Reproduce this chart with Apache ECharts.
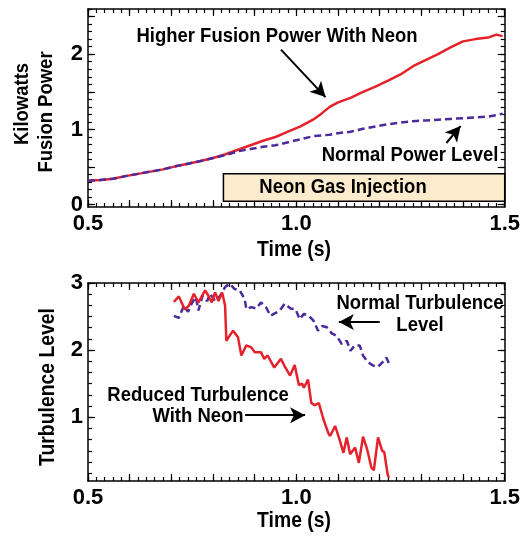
<!DOCTYPE html>
<html>
<head>
<meta charset="utf-8">
<script src="https://cdn.jsdelivr.net/npm/echarts@6/dist/echarts.min.js"></script>
<style>
  html, body { margin: 0; padding: 0; background: #fff; }
  #chart { width: 523px; height: 538px; }
</style>
</head>
<body>
<div id="chart"></div>
<script>
// Fusion power (kW) versus time (s)
const powerTime     = [0.50, 0.53, 0.56, 0.59, 0.62, 0.65, 0.68, 0.71, 0.74, 0.77, 0.80, 0.83, 0.86, 0.89, 0.92, 0.95, 0.98, 1.01, 1.04, 1.06, 1.08, 1.10, 1.13, 1.16, 1.19, 1.22, 1.25, 1.28, 1.31, 1.34, 1.37, 1.40, 1.43, 1.46, 1.48, 1.495];
const powerWithNeon = [0.32, 0.33, 0.345, 0.38, 0.41, 0.44, 0.47, 0.51, 0.545, 0.58, 0.62, 0.67, 0.73, 0.79, 0.85, 0.90, 0.97, 1.04, 1.13, 1.21, 1.30, 1.36, 1.42, 1.50, 1.57, 1.65, 1.73, 1.84, 1.92, 2.00, 2.09, 2.17, 2.20, 2.22, 2.26, 2.24];
const powerNormal   = [0.32, 0.33, 0.345, 0.38, 0.41, 0.44, 0.47, 0.51, 0.545, 0.58, 0.62, 0.66, 0.71, 0.74, 0.77, 0.79, 0.83, 0.87, 0.91, 0.92, 0.93, 0.95, 0.97, 1.01, 1.04, 1.07, 1.09, 1.11, 1.12, 1.13, 1.14, 1.15, 1.16, 1.17, 1.19, 1.21];

// Turbulence level versus time (s)
const turbNeonTime = [0.706, 0.718, 0.732, 0.742, 0.754, 0.765, 0.768, 0.781, 0.789, 0.797, 0.805, 0.813, 0.822, 0.829, 0.832, 0.835, 0.848, 0.860, 0.868, 0.880, 0.892, 0.900, 0.915, 0.923, 0.931, 0.947, 0.963, 0.971, 0.985, 0.996, 1.006, 1.014, 1.018, 1.028, 1.036, 1.044, 1.054, 1.065, 1.077, 1.081, 1.093, 1.103, 1.113, 1.121, 1.129, 1.141, 1.150, 1.160, 1.170, 1.180, 1.186, 1.196, 1.206, 1.211, 1.219, 1.222];
const turbWithNeon = [2.72, 2.80, 2.61, 2.66, 2.84, 2.71, 2.69, 2.89, 2.81, 2.71, 2.86, 2.73, 2.86, 2.66, 2.14, 2.16, 2.29, 2.19, 1.92, 2.07, 2.04, 1.97, 1.97, 1.87, 1.92, 1.74, 1.87, 1.77, 1.62, 1.78, 1.48, 1.50, 1.44, 1.56, 1.21, 1.18, 1.21, 0.97, 0.76, 0.72, 0.87, 0.68, 0.47, 0.70, 0.45, 0.55, 0.32, 0.71, 0.52, 0.25, 0.21, 0.70, 0.50, 0.48, 0.15, 0.10];
const turbNormalTime = [0.706, 0.718, 0.730, 0.740, 0.750, 0.759, 0.765, 0.775, 0.786, 0.793, 0.805, 0.817, 0.829, 0.840, 0.852, 0.864, 0.876, 0.880, 0.892, 0.904, 0.915, 0.927, 0.938, 0.949, 0.959, 0.972, 0.986, 0.998, 1.008, 1.018, 1.030, 1.041, 1.052, 1.062, 1.073, 1.085, 1.097, 1.109, 1.121, 1.130, 1.140, 1.152, 1.160, 1.172, 1.184, 1.196, 1.207, 1.216, 1.223];
const turbNormal     = [2.51, 2.48, 2.66, 2.57, 2.71, 2.79, 2.59, 2.81, 2.73, 2.84, 2.73, 2.81, 2.94, 2.99, 2.91, 2.89, 2.76, 2.61, 2.64, 2.62, 2.71, 2.64, 2.51, 2.55, 2.58, 2.69, 2.62, 2.61, 2.46, 2.54, 2.51, 2.44, 2.29, 2.36, 2.34, 2.25, 2.21, 2.09, 2.14, 1.99, 2.07, 2.07, 1.92, 1.82, 1.77, 1.75, 1.82, 1.89, 1.79];

// Tick labels
const timeTicks  = [0.5, 1.0, 1.5];
const powerTicks = [0, 1, 2];
const turbTicks  = [1, 2, 3];

// Neon gas injection window (s)
const neonInjection = [0.825, 1.5];

const FONT = "'Liberation Sans', Arial, sans-serif";
const RED = '#e5222c';
const PURPLE = '#4a2b9c';

function steps(a, b, n) {
  const out = [];
  for (let i = 0; i <= n; i++) out.push(+(a + (b - a) * i / n).toFixed(6));
  return out;
}
const zip = (xs, ys) => xs.map((x, i) => [x, ys[i]]);

const labelStyle = { color: '#000', fontFamily: FONT, fontWeight: 'bold', fontSize: 22 };

// One framed side: a long-tick axis carrying the frame line, plus a short-tick overlay
function side(kind, pos, grid, min, max, major, minor, labels) {
  const base = { gridIndex: grid, position: pos, type: 'value', min, max, splitLine: { show: false } };
  const main = Object.assign({}, base, {
    axisLine: { show: true, onZero: false, lineStyle: { color: '#000', width: 1.5 } },
    axisTick: { show: true, inside: true, length: 7, customValues: major, lineStyle: { color: '#000', width: 1.2 } },
    axisLabel: labels
      ? Object.assign({ show: true, customValues: labels, showMinLabel: true, showMaxLabel: true,
          margin: kind === 'x' ? 6 : 5,
          formatter: v => kind === 'x' ? v.toFixed(1) : String(v) }, labelStyle)
      : { show: false }
  });
  const fine = Object.assign({}, base, {
    axisLine: { show: false, onZero: false },
    axisTick: { show: true, inside: true, length: 4, customValues: minor, lineStyle: { color: '#000', width: 1.2 } },
    axisLabel: { show: false }
  });
  return [main, fine];
}

const xMajor = steps(0.5, 1.5, 10), xMinor = steps(0.5, 1.5, 50);

const xAxis = [].concat(
  side('x', 'bottom', 0, 0.5, 1.5, xMajor, xMinor, timeTicks),
  side('x', 'top', 0, 0.5, 1.5, xMajor, xMinor, null),
  side('x', 'bottom', 1, 0.5, 1.5, xMajor, xMinor, timeTicks),
  side('x', 'top', 1, 0.5, 1.5, xMajor, xMinor, null)
);

const pMajor = steps(0, 2.5, 5), pMinor = steps(0, 2.6, 26);
const tMajor = [1, 2, 3], tMinor = steps(1 / 6, 3, 17);

const yAxis = [].concat(
  side('y', 'left', 0, -0.03, 2.6, pMajor, pMinor, powerTicks),
  side('y', 'right', 0, -0.03, 2.6, pMajor, pMinor, null),
  side('y', 'left', 1, 0.05, 3, tMajor, tMinor, turbTicks),
  side('y', 'right', 1, 0.05, 3, tMajor, tMinor, null)
);

function arrows(lines) {
  return {
    silent: true,
    symbol: ['none', 'arrow'],
    symbolSize: [12, 15],
    label: { show: false },
    lineStyle: { color: '#000', width: 2, type: 'solid' },
    itemStyle: { color: '#000' },
    emphasis: { disabled: true },
    data: lines.map(([a, b]) => [{ coord: a }, { coord: b }])
  };
}

// Condensed bold text (annotations and axis titles)
function note(text, x, y, opts) {
  const o = opts || {};
  return {
    type: 'text', x, y, scaleX: 0.88, rotation: o.rotation || 0, z: 10,
    style: { text, align: 'center', verticalAlign: 'middle', lineHeight: o.lineHeight || 22,
      font: 'bold ' + (o.size || 21) + 'px ' + FONT, fill: '#000' }
  };
}

const option = {
  backgroundColor: '#fff',
  animation: false,
  grid: [
    { left: 88, top: 9, width: 422, height: 198 },
    { left: 88, top: 283, width: 423, height: 198 }
  ],
  xAxis,
  yAxis,
  series: [
    {
      name: 'Higher Fusion Power With Neon', type: 'line', xAxisIndex: 0, yAxisIndex: 0,
      data: zip(powerTime, powerWithNeon), showSymbol: false,
      lineStyle: { color: RED, width: 2.5 }, z: 3,
      markArea: {
        silent: true,
        itemStyle: { color: '#fcebcc', borderColor: '#000', borderWidth: 1.5 },
        label: { show: false },
        data: [[{ xAxis: neonInjection[0], yAxis: 0.045 }, { xAxis: neonInjection[1], yAxis: 0.41 }]]
      },
      markLine: arrows([[[0.963, 2.06], [1.07, 1.43]], [[1.36, 0.82], [1.394, 1.045]]])
    },
    {
      name: 'Normal Power Level', type: 'line', xAxisIndex: 0, yAxisIndex: 0,
      data: zip(powerTime, powerNormal), showSymbol: false,
      lineStyle: { color: PURPLE, width: 2.5, type: [7, 4] }, z: 4
    },
    {
      name: 'Normal Turbulence Level', type: 'line', xAxisIndex: 4, yAxisIndex: 4,
      data: zip(turbNormalTime, turbNormal), showSymbol: false,
      lineStyle: { color: PURPLE, width: 2.5, type: [7, 4] }, z: 3,
      markLine: arrows([[[1.2, 2.42], [1.102, 2.42]], [[0.877, 1.03], [1.021, 1.03]]])
    },
    {
      name: 'Reduced Turbulence With Neon', type: 'line', xAxisIndex: 4, yAxisIndex: 4,
      data: zip(turbNeonTime, turbWithNeon), showSymbol: false,
      lineStyle: { color: RED, width: 2.5 }, z: 4
    }
  ],
  graphic: [
    note('Higher Fusion Power With Neon', 277, 36),
    note('Normal Power Level', 410, 155),
    note('Neon Gas Injection', 343, 187),
    note('Normal Turbulence\nLevel', 420, 314),
    note('Reduced Turbulence\nWith Neon', 198, 406, { lineHeight: 21 }),
    // axis titles
    note('Time (s)', 294, 250, { size: 22 }),
    note('Time (s)', 294, 521, { size: 22 }),
    note('Kilowatts', 22, 104, { rotation: Math.PI / 2 }),
    note('Fusion Power', 46, 112, { rotation: Math.PI / 2 }),
    note('Turbulence Level', 48, 387, { rotation: Math.PI / 2, size: 22 })
  ]
};

const chart = echarts.init(document.getElementById('chart'), null, { renderer: 'canvas' });
chart.setOption(option);
</script>
</body>
</html>
